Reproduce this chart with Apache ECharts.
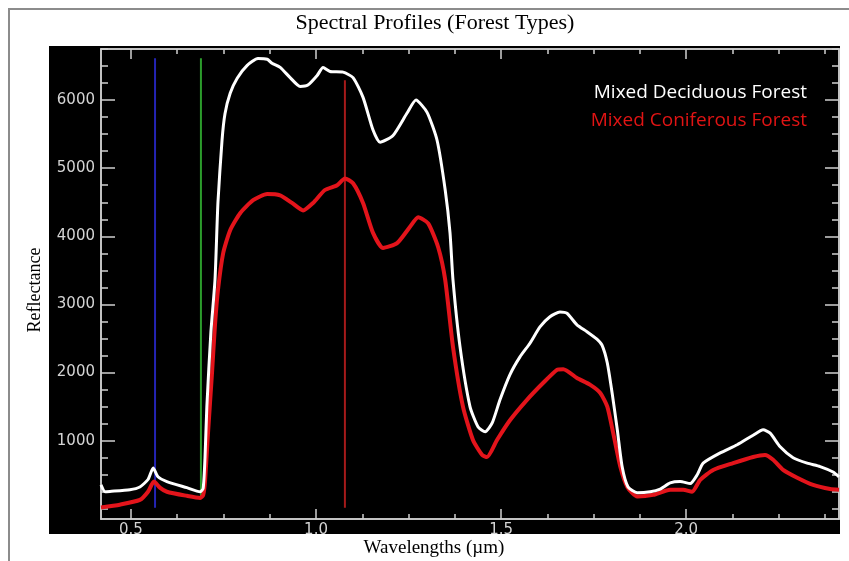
<!DOCTYPE html>
<html>
<head>
<meta charset="utf-8">
<title>Spectral Profiles (Forest Types)</title>
<script src="https://cdn.jsdelivr.net/npm/echarts@6/dist/echarts.min.js"></script>
<style>
  html, body { margin: 0; padding: 0; background: #fff; }
  #chart { width: 849px; height: 561px; }
</style>
</head>
<body>
<div id="chart"></div>
<script>
// wavelength (um) / reflectance pairs
const deciduousWl = [0.419, 0.430, 0.443, 0.497, 0.524, 0.546, 0.560, 0.573, 0.597, 0.651,
  0.687, 0.695, 0.700, 0.705, 0.716, 0.727, 0.735, 0.746, 0.754, 0.768,
  0.787, 0.814, 0.843, 0.868, 0.881, 0.903, 0.930, 0.957, 0.978, 1.003,
  1.019, 1.038, 1.073, 1.100, 1.127, 1.154, 1.173, 1.208, 1.246, 1.270,
  1.300, 1.327, 1.349, 1.362, 1.370, 1.389, 1.416, 1.438, 1.457, 1.476,
  1.497, 1.524, 1.551, 1.578, 1.605, 1.632, 1.659, 1.678, 1.705, 1.732,
  1.759, 1.773, 1.787, 1.800, 1.814, 1.827, 1.843, 1.868, 1.903, 1.930,
  1.957, 1.984, 2.011, 2.030, 2.046, 2.092, 2.138, 2.181, 2.208, 2.227,
  2.254, 2.289, 2.327, 2.362, 2.397, 2.413];
const deciduousVal = [350, 250, 255, 280, 320, 430, 600, 470, 400, 310,
  250, 300, 750, 1500, 2600, 3360, 4500, 5410, 5800, 6100,
  6320, 6510, 6610, 6600, 6540, 6480, 6330, 6200, 6220, 6360,
  6480, 6420, 6410, 6330, 6040, 5560, 5380, 5480, 5810, 6000,
  5820, 5410, 4680, 4050, 3360, 2380, 1500, 1200, 1130, 1260,
  1600, 1970, 2230, 2430, 2670, 2820, 2890, 2870, 2700, 2600,
  2490, 2400, 2140, 1700, 1160, 620, 320, 235, 250, 290,
  380, 400, 370, 500, 670, 820, 940, 1080, 1160, 1110,
  910, 750, 670, 620, 540, 470];

const coniferousWl = [0.419, 0.470, 0.524, 0.546, 0.562, 0.578, 0.597, 0.651, 0.687, 0.695,
  0.700, 0.708, 0.719, 0.727, 0.735, 0.749, 0.768, 0.795, 0.830, 0.868,
  0.903, 0.935, 0.965, 0.992, 1.024, 1.057, 1.078, 1.100, 1.127, 1.154,
  1.181, 1.219, 1.254, 1.276, 1.303, 1.330, 1.349, 1.370, 1.397, 1.424,
  1.449, 1.462, 1.489, 1.524, 1.570, 1.614, 1.651, 1.668, 1.705, 1.741,
  1.768, 1.787, 1.803, 1.822, 1.841, 1.868, 1.911, 1.957, 1.992, 2.016,
  2.038, 2.073, 2.127, 2.181, 2.213, 2.235, 2.262, 2.300, 2.343, 2.389, 2.413];
const coniferousVal = [20, 60, 130, 250, 400, 310, 250, 190, 160, 200,
  400, 1100, 2000, 2700, 3210, 3750, 4090, 4340, 4530, 4620,
  4600, 4490, 4380, 4490, 4680, 4750, 4850, 4780, 4490, 4050,
  3830, 3900, 4140, 4280, 4190, 3840, 3360, 2380, 1500, 1010,
  790, 760, 1010, 1300, 1600, 1850, 2040, 2050, 1920, 1820,
  1700, 1500, 1110, 620, 320, 180, 205, 280, 280, 250,
  425, 570, 670, 760, 790, 720, 570, 455, 350, 290, 280];

// band marker lines (blue, green, red)
const markerWl = [0.565, 0.689, 1.078];
const markerLow = [15, 176, 15];
const markerHigh = [6613, 6613, 6290];
const markerColors = ['#2424b4', '#2c9c2c', '#a51a1a'];

// axis ticks
const xMajor = [0.5, 1.0, 1.5, 2.0];
const xMinor = [0.625, 0.75, 0.875, 1.125, 1.25, 1.375, 1.625, 1.75, 1.875, 2.125, 2.25, 2.375];
const yMajor = [1000, 2000, 3000, 4000, 5000, 6000];
const yMinor = [0, 250, 500, 750, 1250, 1500, 1750, 2250, 2500, 2750, 3250, 3500, 3750,
  4250, 4500, 4750, 5250, 5500, 5750, 6250, 6500, 6750];

const xMin = 0.419, xMax = 2.413;
const yMin = -150, yMax = 6750;
const axisColor = '#cfcfcf';

function pairs(xs, ys) {
  return xs.map(function (x, i) { return [x, ys[i]]; });
}

function xAxisOf(position, ticks, len, withLabels) {
  return {
    type: 'value', position: position, min: xMin, max: xMax,
    axisLine: { show: true, onZero: false, lineStyle: { color: axisColor, width: 1.5 } },
    axisTick: { show: true, inside: true, length: len, customValues: ticks, lineStyle: { color: axisColor, width: 1.5 } },
    axisLabel: withLabels ? {
      customValues: xMajor, color: '#d4d4d4', fontFamily: 'DejaVu Sans', fontSize: 15, margin: 4,
      formatter: function (v) { return v.toFixed(1); }
    } : { show: false },
    splitLine: { show: false }
  };
}

function yAxisOf(position, ticks, len, withLabels) {
  return {
    type: 'value', position: position, min: yMin, max: yMax,
    axisLine: { show: true, onZero: false, lineStyle: { color: axisColor, width: 1.5 } },
    axisTick: { show: true, inside: true, length: len, customValues: ticks, lineStyle: { color: axisColor, width: 1.5 } },
    axisLabel: withLabels ? {
      customValues: yMajor, color: '#d4d4d4', fontFamily: 'DejaVu Sans', fontSize: 15, margin: 6,
      formatter: function (v) { return String(v); }
    } : { show: false },
    splitLine: { show: false }
  };
}

const series = markerWl.map(function (w, i) {
  return {
    type: 'line', silent: true, symbol: 'none',
    data: [[w, markerLow[i]], [w, markerHigh[i]]],
    lineStyle: { color: markerColors[i], width: 2 }
  };
});
series.push({
  name: 'Mixed Coniferous Forest', type: 'line', symbol: 'none', smooth: 0.2,
  data: pairs(coniferousWl, coniferousVal),
  lineStyle: { color: '#e3141b', width: 4 }
});
series.push({
  name: 'Mixed Deciduous Forest', type: 'line', symbol: 'none', smooth: 0.2,
  data: pairs(deciduousWl, deciduousVal),
  lineStyle: { color: '#ffffff', width: 3 }
});

const option = {
  animation: false,
  backgroundColor: '#ffffff',
  grid: { left: 101, right: 10, top: 49, bottom: 42 },
  xAxis: [
    xAxisOf('bottom', xMajor, 10, true),
    xAxisOf('bottom', xMinor, 5, false),
    xAxisOf('top', xMajor, 10, false),
    xAxisOf('top', xMinor, 5, false)
  ],
  yAxis: [
    yAxisOf('left', yMajor, 14, true),
    yAxisOf('left', yMinor, 7, false),
    yAxisOf('right', yMajor, 14, false),
    yAxisOf('right', yMinor, 7, false)
  ],
  graphic: [
    { type: 'rect', z: -20, shape: { x: 9, y: 9, width: 860, height: 560 },
      style: { fill: '#ffffff', stroke: '#8c8c8c', lineWidth: 2 } },
    { type: 'rect', z: -10, shape: { x: 49, y: 46, width: 791, height: 488 },
      style: { fill: '#000000' } },
    { type: 'text', x: 435, y: 23,
      style: { text: 'Spectral Profiles (Forest Types)', font: '22px "Liberation Serif"', fill: '#000', align: 'center', verticalAlign: 'middle' } },
    { type: 'text', x: 35, y: 290, rotation: Math.PI / 2,
      style: { text: 'Reflectance', font: '18px "Liberation Serif"', fill: '#000', align: 'center', verticalAlign: 'middle' } },
    { type: 'text', x: 434, y: 548,
      style: { text: 'Wavelengths (µm)', font: '19px "Liberation Serif"', fill: '#000', align: 'center', verticalAlign: 'middle' } },
    { type: 'text', x: 807, y: 93,
      style: { text: 'Mixed Deciduous Forest', font: '19px "Open Sans"', fill: '#ffffff', align: 'right', verticalAlign: 'middle' } },
    { type: 'text', x: 807, y: 121,
      style: { text: 'Mixed Coniferous Forest', font: '19px "Open Sans"', fill: '#e01414', align: 'right', verticalAlign: 'middle' } }
  ],
  series: series
};

const chart = echarts.init(document.getElementById('chart'));
chart.setOption(option);
</script>
</body>
</html>
